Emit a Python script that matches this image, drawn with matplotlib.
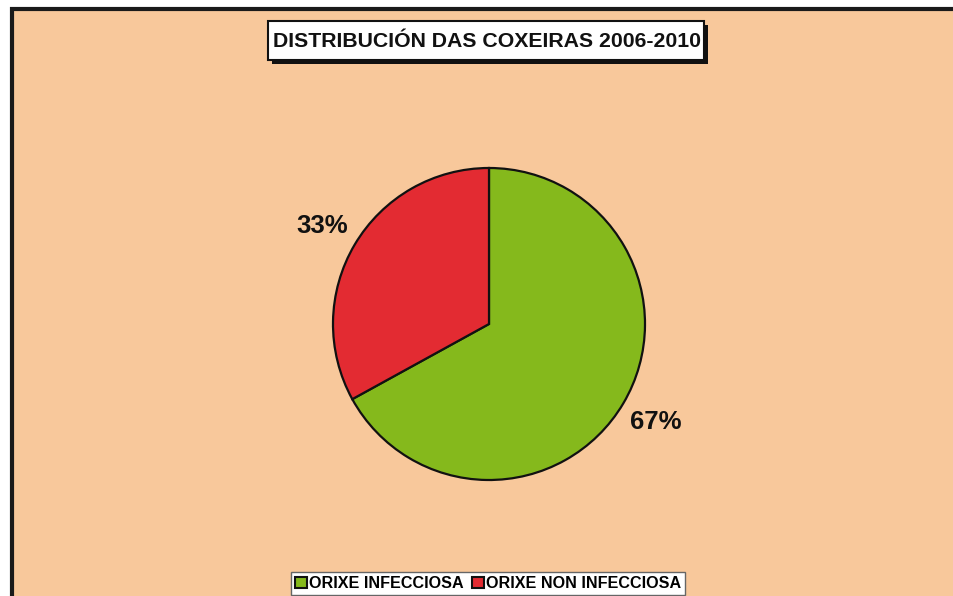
import matplotlib
matplotlib.use("Agg")
import matplotlib.pyplot as plt
from matplotlib.patches import Rectangle

categories = ["ORIXE INFECCIOSA", "ORIXE NON INFECCIOSA"]
values = [67, 33]
colors = ["#85B91C", "#E32B32"]
title = "DISTRIBUCIÓN DAS COXEIRAS 2006-2010"

W, H = 954, 596
fig = plt.figure(figsize=(W / 100, H / 100), dpi=100)
fig.patch.set_facecolor("white")
plt.rcParams["font.family"] = ["Liberation Sans", "DejaVu Sans"]

def fx(px):
    return px / W

def fy(py):
    return 1 - py / H

# peach background with black top/left border
bg = Rectangle((fx(12), -0.5), fx(1100), fy(9) + 0.5,
               transform=fig.transFigure, facecolor="#F8C89B",
               edgecolor="#1a1a1a", linewidth=3, zorder=0)
fig.add_artist(bg)

# title box with shadow
x0, x1, y0, y1 = 268, 704, 21, 60
shadow = Rectangle((fx(x0 + 4), fy(y1 + 4)), fx(x1 - x0), (y1 - y0) / H,
                   transform=fig.transFigure, facecolor="#111111",
                   edgecolor="none", zorder=1)
fig.add_artist(shadow)
box = Rectangle((fx(x0), fy(y1)), fx(x1 - x0), (y1 - y0) / H,
                transform=fig.transFigure, facecolor="white",
                edgecolor="#111111", linewidth=1.5, zorder=2)
fig.add_artist(box)
fig.text(fx((x0 + x1) / 2 + 1), fy((y0 + y1) / 2 + 1), title, ha="center", va="center",
         fontsize=15.3, fontweight="bold", color="#111111", zorder=3)

# pie
cx, cy, r = 489, 324, 156
ax = fig.add_axes([fx(cx - r), fy(cy + r), fx(2 * r), 2 * r / H])
ax.set_facecolor("none")
wedges, texts, autotexts = ax.pie(
    values, colors=colors, startangle=90, counterclock=False,
    autopct="%1.0f%%", pctdistance=1.24,
    wedgeprops=dict(edgecolor="#111111", linewidth=1.6),
    textprops=dict(fontsize=18.5, fontweight="bold", color="#111111"))
ax.set_xlim(-1.0, 1.0)
ax.set_ylim(-1.0, 1.0)
ax.set_aspect("equal")
ax.axis("off")
for w in wedges:
    w.set_clip_on(False)

# legend
leg = fig.legend(wedges, categories, loc="upper center",
                 bbox_to_anchor=(fx(488), fy(572)), ncol=2,
                 frameon=True, fancybox=False, edgecolor="#666666",
                 facecolor="white", framealpha=1,
                 prop=dict(size=11.6, weight="bold"),
                 handlelength=0.75, handleheight=0.75, handletextpad=0.15,
                 columnspacing=0.5, borderpad=0.25, borderaxespad=0)
leg.get_frame().set_linewidth(1.0)
for h in leg.legend_handles:
    h.set_edgecolor("#111111")
    h.set_linewidth(1.5)

fig.savefig("out.png", dpi=100)
